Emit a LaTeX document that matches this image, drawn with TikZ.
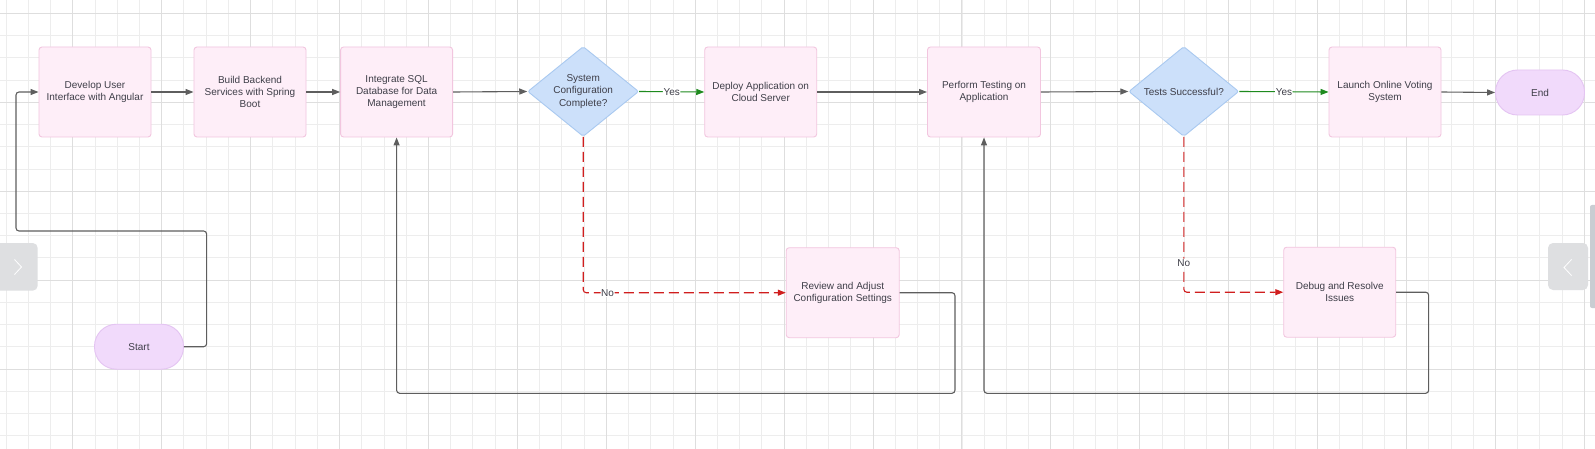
\documentclass[tikz,border=0pt]{standalone}
\usepackage{fontspec}
\setmainfont{Liberation Sans}
\usetikzlibrary{arrows.meta,shapes.geometric}
\definecolor{boxfill}{HTML}{FEEEF8}
\definecolor{boxline}{HTML}{F2C6DF}
\definecolor{decfill}{HTML}{CCE0FA}
\definecolor{decline}{HTML}{A9C9F0}
\definecolor{termfill}{HTML}{F1DAFB}
\definecolor{termline}{HTML}{E4C4F2}
\definecolor{ink}{HTML}{3E3E48}
\definecolor{wire}{HTML}{5E5E5E}
\definecolor{yesgreen}{HTML}{1E8A1E}
\definecolor{nored}{HTML}{D01E1E}
\definecolor{gridlight}{HTML}{EDEDED}
\definecolor{griddark}{HTML}{DEDEDE}
\definecolor{tabgray}{HTML}{DEDFE1}
\definecolor{scrollgray}{HTML}{C9CDD2}
\tikzset{
  task/.style={draw=boxline, fill=boxfill, rounded corners=3pt, line width=0.9pt,
    minimum width=112pt, minimum height=90pt, inner sep=0pt, align=center},
  check/.style={diamond, draw=decline, fill=decfill, rounded corners=2pt, line width=0.9pt,
    minimum width=111pt, minimum height=90pt, aspect=1.22, inner sep=0pt, align=center},
  term/.style={draw=termline, fill=termfill, rounded corners=22pt, line width=0.9pt,
    minimum width=89pt, minimum height=45pt, inner sep=0pt},
  flow/.style={draw=wire, line width=1.1pt, rounded corners=3pt, -{Triangle[length=8pt,width=6pt]}},
  yesflow/.style={flow, draw=yesgreen},
  noflow/.style={flow, draw=nored, dash pattern=on 10pt off 5pt},
  lbl/.style={fill=white, inner sep=0.6pt}
}
\begin{document}
\begin{tikzpicture}[x=1pt, y=-1pt,
    every node/.style={font=\fontsize{10}{12.3}\selectfont, text=ink}]
  \useasboundingbox (0,0) rectangle (1595,449);
  \fill[white] (0,0) rectangle (1595,449);
  % grid
  \foreach \i in {0,...,71}
    \draw[gridlight, line width=0.8pt] ({6+22.23*\i},0) -- ({6+22.23*\i},449);
  \foreach \j in {0,...,19}
    \draw[gridlight, line width=0.8pt] (0,{13.3+22.23*\j}) -- (1595,{13.3+22.23*\j});
  \foreach \i in {0,...,17}
    \draw[griddark, line width=0.9pt] ({72.7+88.92*\i},0) -- ({72.7+88.92*\i},449);
  \foreach \j in {0,...,4}
    \draw[griddark, line width=0.9pt] (0,{13.3+88.92*\j}) -- (1595,{13.3+88.92*\j});
  % side tabs
  \fill[tabgray, rounded corners=5pt] (-10,243) rectangle (37.7,290.7);
  \draw[white, line width=0.8pt] (14.5,259.5) -- (21.5,267) -- (14.5,274.5);
  \fill[tabgray, rounded corners=5pt] (1548,243) rectangle (1588,290);
  \draw[white, line width=0.8pt] (1571.5,259.5) -- (1564,267.5) -- (1571.5,275.5);
  \fill[scrollgray, rounded corners=2pt] (1590,205) rectangle (1597,308);

  \node[task] (dev) at (95,92) {Develop User\\Interface with Angular};
  \node[task] (build) at (250,92) {Build Backend\\Services with Spring\\Boot};
  \node[task] (intg) at (396.6,92) {Integrate SQL\\Database for Data\\Management};
  \node[check] (d1) at (583.2,91.5) {System\\Configuration\\Complete?};
  \node[task] (deploy) at (760.7,92) {Deploy Application on\\Cloud Server};
  \node[task, minimum width=113pt] (perform) at (984,92) {Perform Testing on\\Application};
  \node[check, minimum width=110pt] (d2) at (1183.8,91.5) {Tests Successful?};
  \node[task] (launch) at (1385,92) {Launch Online Voting\\System};
  \node[term] (theend) at (1540,92.5) {End};
  \node[term] (start) at (139,346.7) {Start};
  \node[task, minimum width=113pt] (review) at (842.7,292.7) {Review and Adjust\\Configuration Settings};
  \node[task] (debug) at (1339.7,292.2) {Debug and Resolve\\Issues};

  \draw[flow] (start.east) -- ++(22.7,0) |- (16,231) |- (dev.west);
  \draw[flow] (dev.east) -- (build.west);
  \draw[flow] (build.east) -- (intg.west);
  \draw[flow] (intg.east) -- (d1.west);
  \draw[yesflow] (d1.east) -- node[lbl]{Yes} (deploy.west);
  \draw[noflow] (d1.south) |- node[lbl, pos=0.56]{No} (review.west);
  \draw[flow] (review.east) -- ++(55.3,0) |- (intg.south |- 0,393.3) -- (intg.south);
  \draw[flow] (deploy.east) -- (perform.west);
  \draw[flow] (perform.east) -- (d2.west);
  \draw[yesflow] (d2.east) -- node[lbl]{Yes} (launch.west);
  \draw[noflow] (d2.south) |- node[lbl, pos=0.405]{No} (debug.west);
  \draw[flow] (debug.east) -- ++(32.5,0) |- (perform.south |- 0,393.3) -- (perform.south);
  \draw[flow] (launch.east) -- (theend.west);
\end{tikzpicture}
\end{document}
